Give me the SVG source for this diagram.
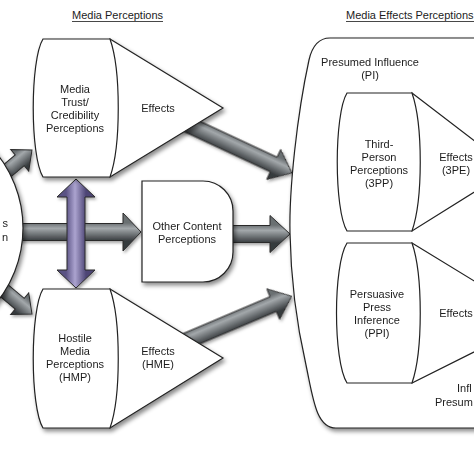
<svg xmlns="http://www.w3.org/2000/svg" width="474" height="474" viewBox="0 0 474 474">
<defs>
<style>
text{font-family:"Liberation Sans",Arial,sans-serif;font-size:11px;fill:#1c1c1c;text-anchor:middle}
.ttl{text-anchor:start}
.shape{fill:#fff;stroke:#222;stroke-width:1.2}
.arr{fill:url(#gArr);stroke:#2a2a2a;stroke-width:1;stroke-linejoin:miter}
.parr{fill:url(#gPur);stroke:#2a2a2a;stroke-width:1}
.ul{stroke:#333;stroke-width:0.9}
</style>
<filter id="sh" x="-20%" y="-20%" width="140%" height="140%">
<feDropShadow dx="2" dy="3" stdDeviation="2.2" flood-color="#000" flood-opacity="0.45"/>
</filter>
<filter id="ash" x="-20%" y="-40%" width="140%" height="180%">
<feDropShadow dx="1.5" dy="2" stdDeviation="1.5" flood-color="#000" flood-opacity="0.35"/>
</filter>
<linearGradient id="gArr" gradientUnits="userSpaceOnUse" x1="0" y1="-9" x2="0" y2="9">
<stop offset="0" stop-color="#6a6f72"/>
<stop offset="0.3" stop-color="#a3a8ab"/>
<stop offset="1" stop-color="#363a3d"/>
</linearGradient>
<linearGradient id="gPur" gradientUnits="userSpaceOnUse" x1="0" y1="-10" x2="0" y2="10">
<stop offset="0" stop-color="#4d4575"/>
<stop offset="0.55" stop-color="#aba3cf"/>
<stop offset="1" stop-color="#5a5284"/>
</linearGradient>
</defs>
<rect width="474" height="474" fill="#fff"/>

<g id="titles">
<text class="ttl" x="72" y="19">Media Perceptions</text>
<line class="ul" x1="72" y1="21.5" x2="163" y2="21.5"/>
<text class="ttl" x="346" y="19">Media Effects Perceptions</text>
<line class="ul" x1="346" y1="21.5" x2="474" y2="21.5"/>
</g>

<g id="connectors" filter="url(#ash)">
<path class="arr" transform="translate(-2.5,178.9) rotate(-40)" d="M0,-7 H29 V-14 L45,0 L29,14 V7 H0 Z"/>
<path class="arr" transform="translate(-2.5,285.1) rotate(40)" d="M0,-7 H29 V-14 L45,0 L29,14 V7 H0 Z"/>
<path class="arr" transform="translate(5,232)" d="M0,-8.5 H118 V-19 L136,0 L118,19 V8.5 H0 Z"/>
<path class="arr" transform="translate(225,234)" d="M0,-8.5 H45 V-18.5 L65,0 L45,18.5 V8.5 H0 Z"/>
<path class="arr" transform="translate(174,118) rotate(25)" d="M0,-8 H110 V-16.5 L130,0 L110,16.5 V8 H0 Z"/>
<path class="arr" transform="translate(172,347) rotate(-23)" d="M0,-8 H110 V-16.5 L130,0 L110,16.5 V8 H0 Z"/>
<path class="parr" transform="translate(76,179) rotate(90)" d="M0,0 L18,-19 V-9 H91 V-19 L109,0 L91,19 V9 H18 V19 Z"/>
</g>

<g id="media-use" filter="url(#sh)">
<circle class="shape" cx="-96" cy="228" r="119"/>
<text x="8" y="227" style="text-anchor:end">s</text>
<text x="8" y="241" style="text-anchor:end">n</text>
</g>

<g id="trust" filter="url(#sh)">
<path class="shape" d="M110,39 L223,108 L110,177 Z"/>
<path class="shape" d="M43,39 H110 C121,70 121,146 110,177 H43 C30,156 30,60 43,39 Z"/>
<text x="75" y="93">Media</text>
<text x="75" y="106">Trust/</text>
<text x="75" y="119">Credibility</text>
<text x="75" y="132">Perceptions</text>
<text x="158" y="112">Effects</text>
</g>

<g id="other-content" filter="url(#sh)">
<path class="shape" d="M142,181 H203 A30,30 0 0 1 233,211 V252 A30,30 0 0 1 203,282 H142 Z"/>
<text x="187" y="230">Other Content</text>
<text x="187" y="243">Perceptions</text>
</g>

<g id="hostile" filter="url(#sh)">
<path class="shape" d="M110,289 L223,358 L110,428 Z"/>
<path class="shape" d="M43,289 H110 C121,320 121,397 110,428 H43 C30,407 30,310 43,289 Z"/>
<text x="75" y="342">Hostile</text>
<text x="75" y="355">Media</text>
<text x="75" y="368">Perceptions</text>
<text x="75" y="381">(HMP)</text>
<text x="158" y="355">Effects</text>
<text x="158" y="368">(HME)</text>
</g>

<g id="presumed-influence" filter="url(#sh)">
<path class="shape" d="M480,38 H330 Q314,38 309,60 C297,115 289,190 290,233 C291,290 298,330 306,365 C313,398 316,428 336,428 H480"/>
<text x="370" y="66">Presumed Influence</text>
<text x="370" y="79">(PI)</text>
</g>

<g id="third-person">
<path class="shape" d="M412,93 L511,169 L412,231 Z"/>
<path class="shape" d="M347,93 H412 C423,125 423,199 412,231 H347 C334,210 334,114 347,93 Z"/>
<text x="379" y="148">Third-</text>
<text x="379" y="161">Person</text>
<text x="379" y="174">Perceptions</text>
<text x="379" y="187">(3PP)</text>
<text x="456" y="161">Effects</text>
<text x="456" y="174">(3PE)</text>
</g>

<g id="persuasive-press">
<path class="shape" d="M412,243 L538,320 L412,383 Z"/>
<path class="shape" d="M347,243 H412 C423,275 423,351 412,383 H347 C333,361 333,265 347,243 Z"/>
<text x="377" y="298">Persuasive</text>
<text x="377" y="311">Press</text>
<text x="377" y="324">Inference</text>
<text x="377" y="337">(PPI)</text>
<text x="456" y="317">Effects</text>
</g>

<g id="ipi">
<text class="ttl" x="457" y="392">Infl</text>
<text class="ttl" x="435" y="406">Presum</text>
</g>
</svg>
